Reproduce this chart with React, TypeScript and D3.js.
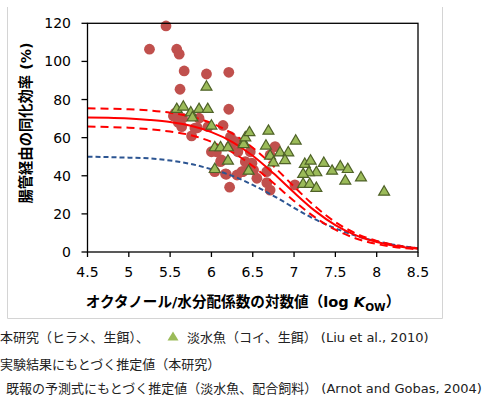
import React from "react";
import * as d3 from "d3";

// axis ticks
const xTicks = [4.5, 5, 5.5, 6, 6.5, 7, 7.5, 8, 8.5];
const yTicks = [0, 20, 40, 60, 80, 100, 120];

// curves
const curveKow = [4.5, 4.75, 5.0, 5.25, 5.5, 5.75, 6.0, 6.25, 6.5, 6.75, 7.0, 7.25, 7.5, 7.75, 8.0, 8.25, 8.5];
const fitMid = [70.6, 70.4, 70.0, 69.3, 68.2, 66.2, 62.9, 57.8, 50.5, 41.3, 31.2, 21.7, 14.1, 8.7, 5.2, 3.0, 1.7];
const fitUpper = [75.4, 75.2, 74.9, 74.3, 73.1, 71.0, 67.6, 62.3, 54.7, 45.1, 34.3, 24.1, 15.7, 9.7, 5.8, 3.4, 1.9];
const fitLower = [65.8, 65.6, 65.2, 64.4, 63.2, 61.3, 57.8, 52.4, 45.1, 36.2, 26.8, 18.3, 11.7, 7.1, 4.2, 2.4, 1.4];
const arnotGobas = [50.0, 49.8, 49.5, 49.1, 48.0, 46.2, 43.4, 40.0, 35.2, 29.5, 23.2, 17.2, 12.4, 8.5, 5.6, 3.5, 2.0];

// flounder (this study) — circles
const flounderKow = [5.45, 5.25, 5.58, 5.61, 5.67, 5.94, 6.21, 5.62, 6.21, 5.54, 5.56, 5.65, 5.64, 5.6, 5.76, 5.8, 5.85, 5.83, 5.96, 6.14, 6.23, 6.23, 6.06, 6.0, 6.04, 6.11, 6.12, 6.18, 6.17, 6.22, 6.32, 6.41, 6.38, 6.37, 6.29, 6.47, 6.45, 6.31, 6.55, 6.67, 6.67, 6.71, 6.77, 6.71, 6.51, 6.49, 7.01];
const flounderAE = [118.6, 106.4, 106.4, 103.8, 95.0, 93.4, 94.3, 85.4, 74.9, 71.4, 72.8, 70.2, 65.8, 68.0, 60.9, 65.0, 70.2, 65.2, 65.8, 66.4, 60.5, 55.6, 52.6, 52.6, 42.2, 47.4, 48.3, 40.8, 41.0, 34.0, 52.6, 47.4, 42.2, 42.2, 57.9, 52.6, 45.7, 40.4, 38.7, 42.2, 36.4, 32.5, 55.3, 50.9, 43.0, 46.6, 35.2];

// carp (Liu et al., 2010) — triangles
const carpKow = [5.58, 5.66, 5.75, 5.77, 5.85, 5.955, 5.94, 6.0, 6.04, 6.11, 6.2, 6.04, 6.2, 6.39, 6.39, 6.41, 6.46, 6.45, 6.69, 6.66, 6.83, 6.93, 6.71, 6.89, 6.75, 7.02, 7.13, 7.2, 7.36, 7.56, 7.65, 7.46, 7.27, 7.18, 7.11, 7.81, 7.62, 7.11, 7.19, 7.27, 8.09];
const carpAE = [75.4, 76.6, 73.6, 71.0, 75.4, 75.4, 87.1, 66.7, 55.3, 55.3, 55.3, 43.9, 48.3, 57.9, 57.0, 60.5, 63.2, 43.0, 64.0, 56.2, 52.6, 52.6, 50.9, 48.6, 47.4, 58.8, 46.6, 48.3, 47.1, 45.3, 43.9, 43.0, 42.2, 42.2, 41.3, 39.5, 37.8, 36.1, 36.1, 34.0, 32.0];

const W = 493;
const H = 397;
const FONT = "'DejaVu Sans', 'Noto Sans CJK JP', sans-serif";

export default function App() {
  const x = d3.scaleLinear().domain([4.5, 8.5]).range([87.5, 418]);
  const y = d3.scaleLinear().domain([0, 120]).range([252, 23.3]);

  const mk = (vals: number[]) =>
    d3
      .line<number>()
      .x((_, i) => x(curveKow[i]))
      .y((d) => y(d))
      .curve(d3.curveMonotoneX)(vals) || "";

  const tri = (cx: number, cy: number) => {
    const s = 5.2;
    return `M${cx},${cy - s}L${cx + s * 1.05},${cy + s * 0.8}L${cx - s * 1.05},${cy + s * 0.8}Z`;
  };

  const [x0, x1] = x.range();
  const [y0, y1] = y.range();

  return (
    <svg
      width={W}
      height={H}
      style={{ position: "absolute", left: 0, top: 0, background: "#fff" }}
      fontFamily={FONT}
    >
      <defs>
        <clipPath id="plotclip">
          <rect x={x0} y={y1 - 6} width={x1 - x0} height={y0 - y1 + 6} />
        </clipPath>
      </defs>
      {/* outer frame */}
      <path d={`M7.5,7V318.5H442.5V7`} fill="none" stroke="#d4d4d4" strokeWidth={1} />

      {/* circles */}
      <g>
        {flounderKow.map((k, i) => (
          <circle key={i} cx={x(k)} cy={y(flounderAE[i])} r={5.4} fill="#c0504d" />
        ))}
      </g>

      {/* curves */}
      <g clipPath="url(#plotclip)" fill="none">
        <path d={mk(arnotGobas)} stroke="#2c5592" strokeWidth={2} strokeDasharray="5,3" />
        <path d={mk(fitUpper)} stroke="#ff0000" strokeWidth={2} strokeDasharray="8,5" />
        <path d={mk(fitLower)} stroke="#ff0000" strokeWidth={2} strokeDasharray="8,5" />
        <path d={mk(fitMid)} stroke="#ff0000" strokeWidth={2} />
      </g>

      {/* triangles */}
      <g>
        {carpKow.map((k, i) => (
          <path key={i} d={tri(x(k), y(carpAE[i]))} fill="#9bbb59" stroke="#4f6228" strokeWidth={1.2} />
        ))}
      </g>

      {/* plot box */}
      <rect x={x0} y={y1} width={x1 - x0} height={y0 - y1} fill="none" stroke="#000" strokeWidth={1.3} />

      {/* y axis ticks */}
      {yTicks.map((t) => (
        <g key={t}>
          <line x1={x0 - 6} x2={x0} y1={y(t)} y2={y(t)} stroke="#000" strokeWidth={1.3} />
          <text x={71} y={y(t)} dy="0.36em" textAnchor="end" fontSize={14} fill="#000">
            {t}
          </text>
        </g>
      ))}
      {/* x axis ticks */}
      {xTicks.map((t) => (
        <g key={t}>
          <line x1={x(t)} x2={x(t)} y1={y0} y2={y0 + 5} stroke="#000" strokeWidth={1.3} />
          <text x={x(t)} y={277} textAnchor="middle" fontSize={14} fill="#000">
            {String(t)}
          </text>
        </g>
      ))}

      {/* axis titles */}
      <text x={243} y={307} textAnchor="middle" fontSize={14.6} fontWeight="bold" fill="#000">
        オクタノール/水分配係数の対数値（log <tspan fontStyle="italic">K</tspan>
        <tspan fontSize={10.5} dy={4}>OW</tspan>
        <tspan dy={-4}>）</tspan>
      </text>
      <text
        transform={`translate(26,123) rotate(-90)`}
        textAnchor="middle"
        fontSize={14.3}
        fontWeight="bold"
        fill="#000"
        dy="0.35em"
      >
        腸管経由の同化効率 (%)
      </text>

      {/* legend text */}
      <text x={0} y={342} fontSize={13} fill="#222">
        本研究（ヒラメ、生餌）、
      </text>
      <path d={`M173,331.5L178.5,340.5L167.5,340.5Z`} fill="#9bbb59" />
      <text x={187} y={342} fontSize={13} fill="#222">
        淡水魚（コイ、生餌） (Liu et al., 2010)
      </text>
      <text x={0} y={369} fontSize={13} fill="#222">
        実験結果にもとづく推定値（本研究）
      </text>
      <text x={6} y={393} fontSize={13} fill="#222">
        既報の予測式にもとづく推定値（淡水魚、配合飼料） (Arnot and Gobas, 2004)
      </text>
    </svg>
  );
}
